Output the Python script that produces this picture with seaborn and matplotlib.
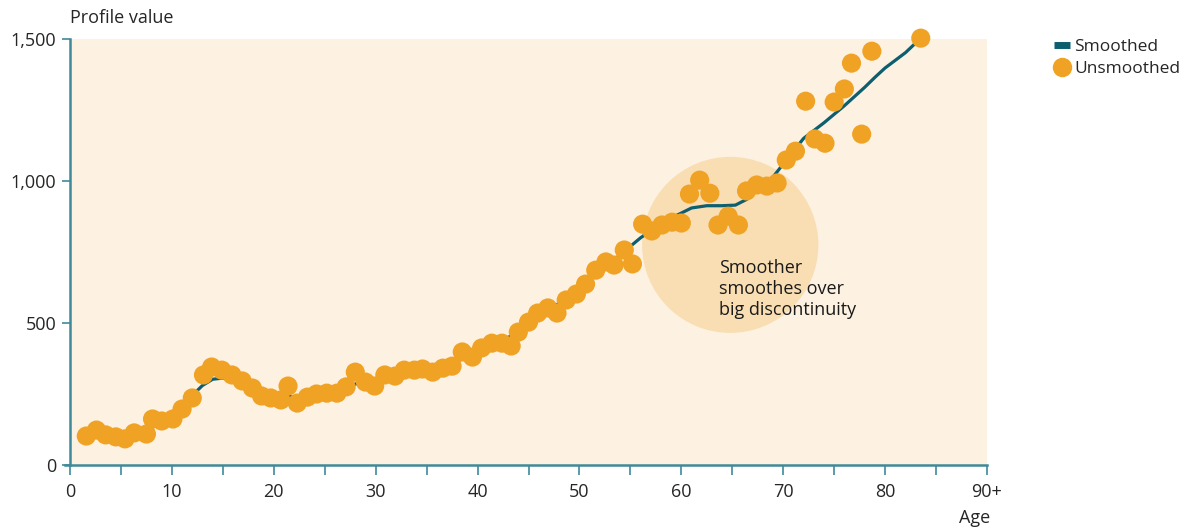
"""
Smoothed vs unsmoothed age profile.
"""

import matplotlib.pyplot as plt
import seaborn as sns
import pandas as pd
from matplotlib.patches import Ellipse
from matplotlib.lines import Line2D

# unsmoothed points (age, value)
raw_age = [1.6, 2.6, 3.5, 4.5, 5.4, 6.3, 7.5, 8.1, 9.0, 10.1, 11.0, 12.0, 13.1, 13.9,
           14.9, 15.9, 16.9, 17.9, 18.8, 19.7, 20.7, 21.4, 22.3, 23.3, 24.2, 25.2,
           26.2, 27.1, 28.0, 29.0, 29.9, 30.9, 31.9, 32.8, 33.8, 34.6, 35.6, 36.6,
           37.5, 38.5, 39.5, 40.4, 41.4, 42.4, 43.3, 44.0, 45.0, 45.9, 46.9, 47.8,
           48.7, 49.7, 50.6, 51.6, 52.6, 53.4, 54.4, 55.2, 56.2, 57.1, 58.1, 59.1,
           60.0, 60.8, 61.8, 62.8, 63.6, 64.6, 65.6, 66.4, 67.4, 68.4, 69.4, 70.3,
           71.2, 72.2, 73.1, 74.1, 75.0, 76.0, 76.7, 77.7, 78.7, 83.5]
raw_value = [102, 123, 106, 99, 92, 113, 109, 162, 155, 162, 197, 236, 317, 345,
             334, 317, 296, 271, 243, 236, 229, 278, 218, 239, 250, 253,
             253, 275, 327, 292, 278, 317, 313, 334, 334, 338, 327, 341,
             348, 398, 380, 412, 429, 429, 419, 468, 503, 535, 553, 535,
             581, 602, 637, 686, 715, 704, 757, 708, 848, 824, 845, 855,
             852, 954, 1003, 957, 845, 876, 845, 965, 986, 982, 993, 1074,
             1105, 1281, 1148, 1133, 1278, 1324, 1415, 1165, 1457, 1503]

# smoothed curve
smooth_age = [1.6, 4, 6, 8, 10, 12, 13, 14, 15, 16, 18, 20, 22, 24, 26, 28, 30, 32,
              34, 36, 38, 40, 42, 44, 46, 48, 50, 52, 54, 56, 58, 59.6, 61, 62.5,
              64, 65.3, 66.4, 68, 69, 70, 72, 74, 76, 78, 79, 80, 81, 82, 83.5]
smooth_value = [105, 100, 108, 145, 185, 245, 280, 302, 306, 298, 268, 245, 240, 248,
                258, 285, 302, 320, 335, 345, 365, 400, 430, 468, 520, 570, 620, 680,
                740, 800, 850, 880, 905, 913, 913, 915, 935, 985, 1014, 1060, 1150,
                1205, 1265, 1330, 1365, 1398, 1425, 1452, 1503]

x_ticks = [0, 10, 20, 30, 40, 50, 60, 70, 80, 90]
x_tick_labels = ["0", "10", "20", "30", "40", "50", "60", "70", "80", "90+"]
y_ticks = [0, 500, 1000, 1500]
y_tick_labels = ["0", "500", "1,000", "1,500"]

TEAL = "#0d5e6e"
ORANGE = "#f0a224"
AXIS = "#3f8a99"

sns.set_style("white")
plt.rcParams["font.family"] = ["Open Sans", "DejaVu Sans"]

raw_df = pd.DataFrame({"age": raw_age, "value": raw_value})
smooth_df = pd.DataFrame({"age": smooth_age, "value": smooth_value})

fig = plt.figure(figsize=(11.88, 5.29), dpi=100)
ax = fig.add_axes([70 / 1188, 64 / 529, 917 / 1188, 426 / 529])
ax.set_facecolor("#fdf1e2")

ax.add_patch(Ellipse((64.8, 775), width=17.3, height=620, facecolor="#f9deb3",
                     edgecolor="none", zorder=1))

sns.lineplot(data=smooth_df, x="age", y="value", color=TEAL, linewidth=2.3,
             ax=ax, zorder=3, sort=False)
sns.scatterplot(data=raw_df, x="age", y="value", color=ORANGE, s=190,
                edgecolor="none", ax=ax, zorder=4, clip_on=False)

ax.text(63.7, 620, "Smoother\nsmoothes over\nbig discontinuity", fontsize=13,
        color="#1a1a1a", ha="left", va="center", linespacing=1.2, zorder=5)

ax.set_xlim(0, 90)
ax.set_ylim(0, 1500)
ax.set_xticks(x_ticks)
ax.set_xticklabels(x_tick_labels)
ax.set_xticks(list(range(5, 90, 10)), minor=True)
ax.set_yticks(y_ticks)
ax.set_yticklabels(y_tick_labels)
ax.set_xlabel("")
ax.set_ylabel("")

for side in ["top", "right"]:
    ax.spines[side].set_visible(False)
for side in ["left", "bottom"]:
    ax.spines[side].set_color(AXIS)
    ax.spines[side].set_linewidth(1.8)
ax.spines["bottom"].set_bounds(-0.5, 90)

ax.tick_params(axis="x", which="both", bottom=True, direction="out", length=7,
               width=1.2, color=AXIS, labelsize=13, pad=6)
ax.tick_params(axis="y", left=True, direction="out", length=6, width=1.2,
               color=AXIS, labelsize=13, pad=4)

fig.text(70 / 1188, 1 - 18 / 529, "Profile value", fontsize=13, ha="left", va="center")
fig.text(975 / 1188, 1 - 518 / 529, "Age", fontsize=13, ha="center", va="center")

handles = [
    Line2D([], [], color=TEAL, linewidth=5, solid_capstyle="butt"),
    Line2D([], [], marker="o", linestyle="none", markerfacecolor=ORANGE,
           markeredgecolor="none", markersize=14),
]
fig.legend(handles, ["Smoothed", "Unsmoothed"], loc="upper left",
           bbox_to_anchor=(1047 / 1188, 1 - 32 / 529), frameon=False, fontsize=12.5,
           handlelength=0.9, handletextpad=0.25, labelspacing=0.35, borderaxespad=0)

fig.savefig("out.png", dpi=100)
plt.close(fig)
